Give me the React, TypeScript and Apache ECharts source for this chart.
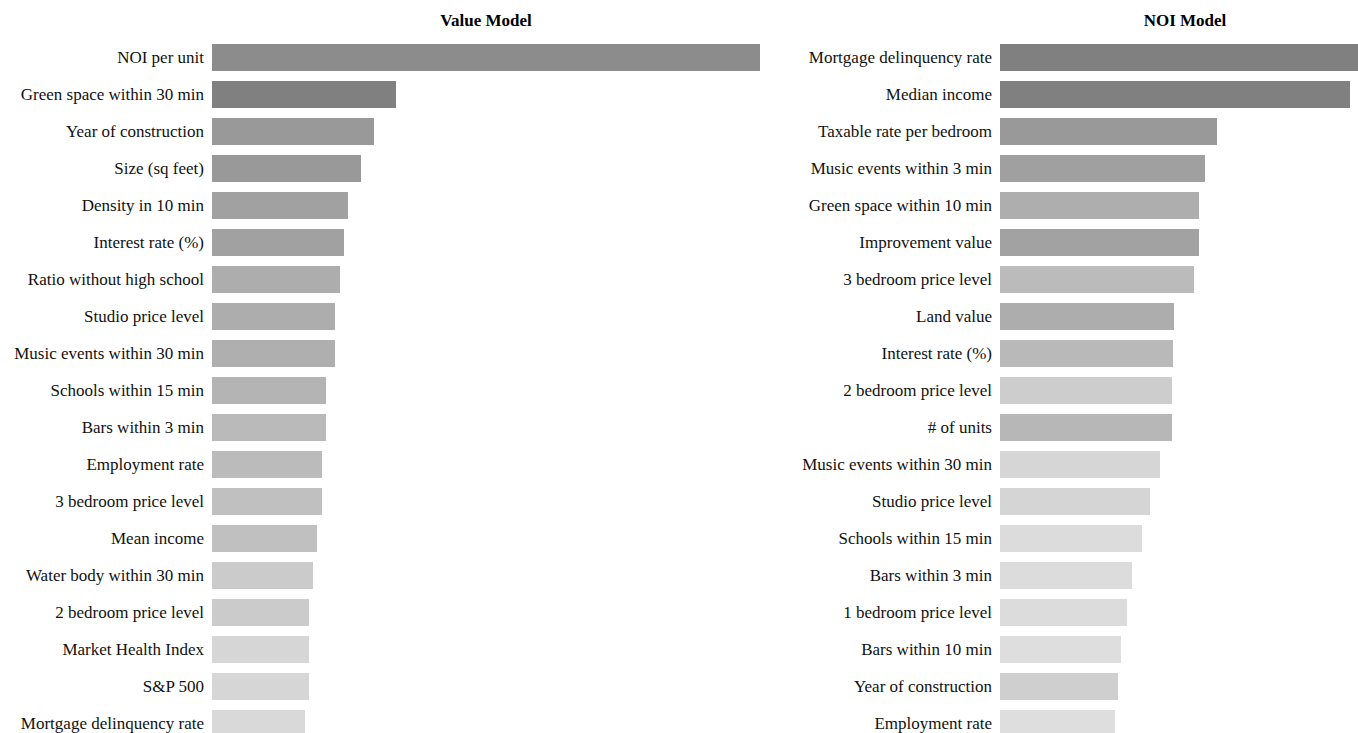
import React, { useEffect, useRef } from "react";
import * as echarts from "echarts";

const valueCategories = [
  "NOI per unit",
  "Green space within 30 min",
  "Year of construction",
  "Size (sq feet)",
  "Density in 10 min",
  "Interest rate (%)",
  "Ratio without high school",
  "Studio price level",
  "Music events within 30 min",
  "Schools within 15 min",
  "Bars within 3 min",
  "Employment rate",
  "3 bedroom price level",
  "Mean income",
  "Water body within 30 min",
  "2 bedroom price level",
  "Market Health Index",
  "S&P 500",
  "Mortgage delinquency rate",
];
const valueImportance = [548, 184, 162, 149, 136, 132, 128, 123, 123, 114, 114, 110, 110, 105, 101, 97, 97, 97, 93];
const valueColors = [
  "#8c8c8c", "#808080", "#999999", "#999999", "#a1a1a1", "#a1a1a1", "#adadad", "#adadad", "#afafaf",
  "#b4b4b4", "#bababa", "#bbbbbb", "#c0c0c0", "#c0c0c0", "#cbcbcb", "#cbcbcb", "#d6d6d6", "#d6d6d6", "#d9d9d9",
];

const noiCategories = [
  "Mortgage delinquency rate",
  "Median income",
  "Taxable rate per bedroom",
  "Music events within 3 min",
  "Green space within 10 min",
  "Improvement value",
  "3 bedroom price level",
  "Land value",
  "Interest rate (%)",
  "2 bedroom price level",
  "# of units",
  "Music events within 30 min",
  "Studio price level",
  "Schools within 15 min",
  "Bars within 3 min",
  "1 bedroom price level",
  "Bars within 10 min",
  "Year of construction",
  "Employment rate",
];
const noiImportance = [370, 350, 217, 205, 199, 199, 194, 174, 173, 172, 172, 160, 150, 142, 132, 127, 121, 118, 115];
const noiColors = [
  "#808080", "#808080", "#999999", "#a0a0a0", "#aeaeae", "#a2a2a2", "#bbbbbb", "#adadad", "#b9b9b9",
  "#cdcdcd", "#b7b7b7", "#d6d6d6", "#d5d5d5", "#dcdcdc", "#dcdcdc", "#dcdcdc", "#dedede", "#cfcfcf", "#dedede",
];

const titles = ["Value Model", "NOI Model"];

const FONT = "'Liberation Serif', 'Times New Roman', serif";

export default function App() {
  const ref = useRef<HTMLDivElement>(null);
  useEffect(() => {
    if (!ref.current) return;
    const chart = echarts.init(ref.current, null, { renderer: "svg" });
    const grids = [
      { left: 212, width: 548, top: 39, height: 703 },
      { left: 1000, width: 370, top: 39, height: 703 },
    ];
    const maxes = [548, 370];
    const cats = [valueCategories, noiCategories];
    const vals = [valueImportance, noiImportance];
    const cols = [valueColors, noiColors];
    chart.setOption({
      animation: false,
      backgroundColor: "#ffffff",
      title: titles.map((t, i) => ({
        text: t,
        left: grids[i].left + grids[i].width / 2,
        top: 12,
        padding: 0,
        textAlign: "center",
        textStyle: { fontFamily: FONT, fontSize: 17, fontWeight: "bold", color: "#000000" },
      })),
      grid: grids.map((g) => ({ ...g, containLabel: false })),
      xAxis: grids.map((_, i) => ({
        type: "value",
        gridIndex: i,
        min: 0,
        max: maxes[i],
        show: false,
        splitLine: { show: false },
      })),
      yAxis: grids.map((_, i) => ({
        type: "category",
        gridIndex: i,
        inverse: true,
        data: cats[i],
        axisLine: { show: false },
        axisTick: { show: false },
        splitLine: { show: false },
        axisLabel: { fontFamily: FONT, fontSize: 17, color: "#111111", margin: 8 },
      })),
      series: grids.map((_, i) => ({
        type: "bar",
        xAxisIndex: i,
        yAxisIndex: i,
        barWidth: 27,
        data: vals[i].map((v, j) => ({ value: v, itemStyle: { color: cols[i][j] } })),
      })),
    });
    return () => chart.dispose();
  }, []);
  return (
    <div
      style={{
        position: "fixed",
        left: 0,
        top: 0,
        width: 1358,
        height: 733,
        overflow: "hidden",
        background: "#fff",
      }}
    >
      <div ref={ref} style={{ width: 1380, height: 760 }} />
    </div>
  );
}
